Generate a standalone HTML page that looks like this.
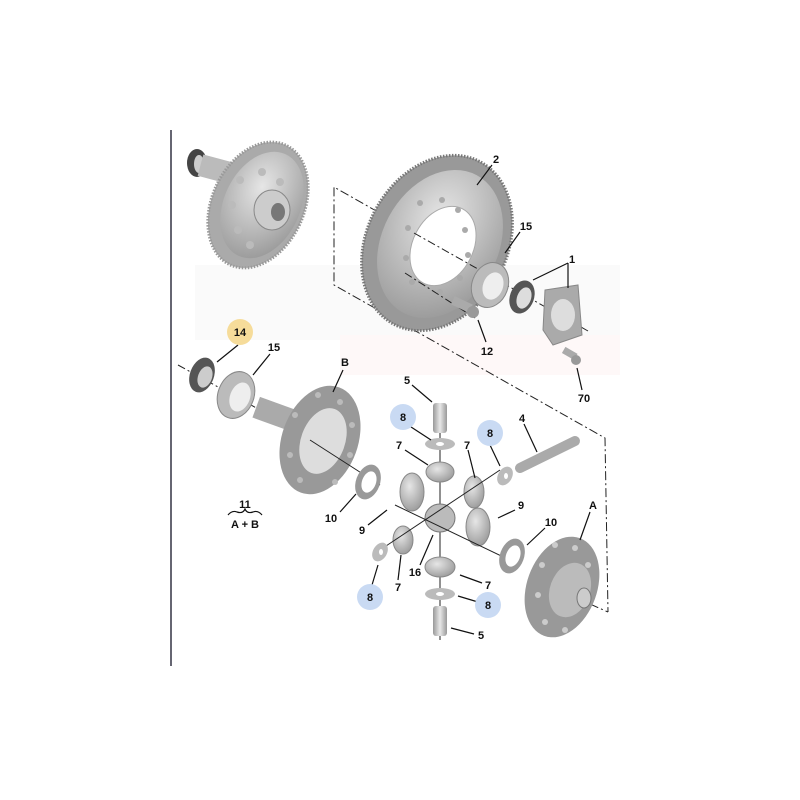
<!DOCTYPE html>
<html><head><style>
html,body{margin:0;padding:0;background:#fff;}
svg{display:block;}
text{font-family:"Liberation Sans",sans-serif;font-weight:bold;font-size:11px;fill:#111;text-anchor:middle;}
</style></head><body>
<svg width="800" height="800" viewBox="0 0 800 800" xmlns="http://www.w3.org/2000/svg">
<defs>
<radialGradient id="g" cx="40%" cy="35%" r="70%"><stop offset="0" stop-color="#e6e6e6"/><stop offset="1" stop-color="#9a9a9a"/></radialGradient>
<linearGradient id="pin" x1="0" x2="1"><stop offset="0" stop-color="#999"/><stop offset=".5" stop-color="#e8e8e8"/><stop offset="1" stop-color="#999"/></linearGradient>
</defs>
<line x1="171" y1="130" x2="171" y2="666" stroke="#334" stroke-width="1.5"/>
<!-- faint watermark -->
<rect x="195" y="265" width="425" height="75" fill="#fafafa"/>
<rect x="340" y="335" width="280" height="40" fill="#fef8f8"/>

<!-- top-left assembly -->
<g>
<ellipse cx="197" cy="163" rx="10" ry="14" fill="#444"/>
<ellipse cx="199" cy="164" rx="5" ry="9" fill="#ccc"/>
<rect x="200" y="158" width="30" height="22" fill="#bbb" transform="rotate(15 215 169)"/>
<ellipse cx="258" cy="205" rx="46" ry="66" fill="#aaa" stroke="#999" stroke-width="3" stroke-dasharray="1.5,1.5" transform="rotate(25 258 205)"/>
<ellipse cx="262" cy="205" rx="38" ry="56" fill="url(#g)" transform="rotate(25 262 205)"/>
<g fill="#bbb"><circle cx="240" cy="180" r="4"/><circle cx="262" cy="172" r="4"/><circle cx="280" cy="182" r="4"/><circle cx="238" cy="230" r="4"/><circle cx="250" cy="245" r="4"/><circle cx="232" cy="205" r="4"/></g>
<ellipse cx="272" cy="210" rx="18" ry="20" fill="#ccc" stroke="#888"/>
<ellipse cx="278" cy="212" rx="7" ry="9" fill="#777"/>
</g>

<!-- dashed box -->
<g stroke="#222" stroke-width="1" fill="none" stroke-dasharray="9,3,2,3">
<polyline points="378,212 334,187 334,285 605,438 608,612"/>
<line x1="590" y1="604" x2="608" y2="612"/>
</g>

<!-- big gear 2 -->
<ellipse cx="437" cy="243" rx="70" ry="92" fill="#999" stroke="#777" stroke-width="3" stroke-dasharray="1.5,1.5" transform="rotate(28 437 243)"/>
<ellipse cx="440" cy="244" rx="58" ry="78" fill="url(#g)" transform="rotate(28 440 244)"/>
<ellipse cx="443" cy="246" rx="30" ry="42" fill="#fff" stroke="#aaa" transform="rotate(28 443 246)"/>
<g fill="#aaa">
<circle cx="420" cy="203" r="3"/><circle cx="442" cy="200" r="3"/><circle cx="458" cy="210" r="3"/><circle cx="465" cy="230" r="3"/><circle cx="468" cy="255" r="3"/><circle cx="460" cy="278" r="3"/><circle cx="440" cy="292" r="3"/><circle cx="412" cy="282" r="3"/><circle cx="406" cy="258" r="3"/><circle cx="408" cy="228" r="3"/>
</g>
<line x1="414" y1="233" x2="588" y2="331" stroke="#222" stroke-dasharray="8,3,2,3"/>
<line x1="405" y1="273" x2="475" y2="318" stroke="#222" stroke-dasharray="8,3,2,3"/>

<!-- bearing 15 top -->
<ellipse cx="490" cy="285" rx="18" ry="23" fill="#bbb" stroke="#888" transform="rotate(20 490 285)"/>
<ellipse cx="493" cy="286" rx="10" ry="14" fill="#eee" transform="rotate(20 493 286)"/>
<!-- seal 1 -->
<ellipse cx="522" cy="297" rx="12" ry="17" fill="#555" transform="rotate(20 522 297)"/>
<ellipse cx="524" cy="298" rx="7" ry="11" fill="#ddd" transform="rotate(20 524 298)"/>
<!-- flange -->
<polygon points="545,290 578,285 582,335 553,345 543,330" fill="#aaa" stroke="#888"/>
<ellipse cx="563" cy="315" rx="12" ry="16" fill="#ddd"/>
<!-- bolt 12 -->
<rect x="452" y="300" width="20" height="9" fill="#aaa" transform="rotate(25 462 304)"/>
<circle cx="473" cy="312" r="6" fill="#999"/>
<!-- bolt 70 -->
<rect x="563" y="350" width="14" height="7" fill="#aaa" transform="rotate(30 570 353)"/>
<circle cx="576" cy="360" r="5" fill="#999"/>

<!-- 14 seal, 15 bearing -->
<line x1="178" y1="365" x2="260" y2="410" stroke="#222" stroke-dasharray="8,3,2,3"/>
<ellipse cx="202" cy="375" rx="12" ry="18" fill="#555" transform="rotate(20 202 375)"/>
<ellipse cx="205" cy="377" rx="7" ry="11" fill="#ccc" transform="rotate(20 205 377)"/>
<ellipse cx="236" cy="395" rx="18" ry="24" fill="#bbb" stroke="#888" transform="rotate(20 236 395)"/>
<ellipse cx="240" cy="397" rx="10" ry="15" fill="#eee" transform="rotate(20 240 397)"/>

<!-- housing B -->
<rect x="255" y="403" width="40" height="22" fill="#aaa" transform="rotate(20 275 414)"/>
<ellipse cx="320" cy="440" rx="38" ry="56" fill="#999" transform="rotate(20 320 440)"/>
<g fill="#bbb"><circle cx="318" cy="395" r="3"/><circle cx="340" cy="402" r="3"/><circle cx="352" cy="425" r="3"/><circle cx="350" cy="455" r="3"/><circle cx="335" cy="482" r="3"/><circle cx="300" cy="480" r="3"/><circle cx="290" cy="455" r="3"/><circle cx="295" cy="415" r="3"/></g>
<ellipse cx="323" cy="441" rx="22" ry="34" fill="#ddd" transform="rotate(20 323 441)"/>
<line x1="310" y1="440" x2="380" y2="485" stroke="#222"/>
<!-- washer 10 left -->
<ellipse cx="368" cy="482" rx="12" ry="18" fill="#999" transform="rotate(20 368 482)"/>
<ellipse cx="369" cy="482" rx="7" ry="11" fill="#fff" transform="rotate(20 369 482)"/>

<!-- center pins & gears -->
<line x1="440" y1="405" x2="440" y2="640" stroke="#222"/>
<rect x="433" y="403" width="14" height="30" rx="3" fill="url(#pin)"/>
<ellipse cx="440" cy="444" rx="15" ry="6" fill="#bbb"/><ellipse cx="440" cy="444" rx="4" ry="2" fill="#fff"/>
<ellipse cx="440" cy="472" rx="14" ry="10" fill="url(#g)" stroke="#888"/>
<ellipse cx="412" cy="492" rx="12" ry="19" fill="url(#g)" stroke="#888"/>
<ellipse cx="440" cy="518" rx="15" ry="14" fill="#bbb" stroke="#777"/>
<ellipse cx="474" cy="492" rx="10" ry="16" fill="url(#g)" stroke="#888"/>
<ellipse cx="478" cy="527" rx="12" ry="19" fill="url(#g)" stroke="#888"/>
<ellipse cx="403" cy="540" rx="10" ry="14" fill="url(#g)" stroke="#888"/>
<ellipse cx="440" cy="567" rx="15" ry="10" fill="url(#g)" stroke="#888"/>
<ellipse cx="440" cy="594" rx="15" ry="6" fill="#bbb"/><ellipse cx="440" cy="594" rx="4" ry="2" fill="#fff"/>
<rect x="433" y="606" width="14" height="30" rx="3" fill="url(#pin)"/>
<line x1="395" y1="505" x2="520" y2="565" stroke="#222"/>
<line x1="380" y1="550" x2="500" y2="470" stroke="#222"/>
<ellipse cx="380" cy="552" rx="7" ry="10" fill="#bbb" transform="rotate(30 380 552)"/><ellipse cx="381" cy="552" rx="2" ry="3" fill="#fff"/>
<ellipse cx="505" cy="476" rx="7" ry="10" fill="#bbb" transform="rotate(30 505 476)"/><ellipse cx="506" cy="476" rx="2" ry="3" fill="#fff"/>
<!-- rod 4 -->
<line x1="520" y1="468" x2="575" y2="441" stroke="#aaa" stroke-width="10" stroke-linecap="round"/>
<!-- washer 10 right -->
<ellipse cx="512" cy="556" rx="12" ry="18" fill="#999" transform="rotate(20 512 556)"/>
<ellipse cx="513" cy="556" rx="7" ry="11" fill="#fff" transform="rotate(20 513 556)"/>
<!-- housing A -->
<ellipse cx="562" cy="587" rx="35" ry="52" fill="#999" transform="rotate(20 562 587)"/>
<g fill="#ccc"><circle cx="555" cy="545" r="3"/><circle cx="575" cy="548" r="3"/><circle cx="542" cy="565" r="3"/><circle cx="538" cy="595" r="3"/><circle cx="545" cy="622" r="3"/><circle cx="565" cy="630" r="3"/><circle cx="588" cy="565" r="3"/></g>
<ellipse cx="570" cy="590" rx="20" ry="28" fill="#bbb" transform="rotate(20 570 590)"/>
<ellipse cx="584" cy="598" rx="7" ry="10" fill="#ccc" stroke="#777"/>

<!-- leaders -->
<g stroke="#111" stroke-width="1.2">
<line x1="492" y1="165" x2="477" y2="185"/>
<line x1="520" y1="232" x2="505" y2="253"/>
<line x1="568" y1="263" x2="533" y2="280"/>
<line x1="568" y1="263" x2="568" y2="288"/>
<line x1="486" y1="342" x2="478" y2="320"/>
<line x1="582" y1="390" x2="577" y2="368"/>
<line x1="238" y1="345" x2="217" y2="362"/>
<line x1="270" y1="354" x2="253" y2="375"/>
<line x1="343" y1="370" x2="333" y2="392"/>
<line x1="412" y1="385" x2="432" y2="402"/>
<line x1="408" y1="425" x2="431" y2="440"/>
<line x1="405" y1="450" x2="428" y2="465"/>
<line x1="468" y1="450" x2="475" y2="478"/>
<line x1="490" y1="445" x2="500" y2="466"/>
<line x1="524" y1="424" x2="537" y2="452"/>
<line x1="340" y1="512" x2="356" y2="494"/>
<line x1="368" y1="525" x2="387" y2="510"/>
<line x1="515" y1="510" x2="498" y2="518"/>
<line x1="545" y1="528" x2="527" y2="545"/>
<line x1="590" y1="512" x2="580" y2="540"/>
<line x1="420" y1="565" x2="433" y2="535"/>
<line x1="398" y1="580" x2="401" y2="555"/>
<line x1="372" y1="585" x2="378" y2="565"/>
<line x1="482" y1="583" x2="460" y2="575"/>
<line x1="478" y1="602" x2="458" y2="596"/>
<line x1="474" y1="634" x2="451" y2="628"/>
</g>

<!-- label circles -->
<circle cx="240" cy="332" r="13" fill="#f6dc9a"/>
<circle cx="403" cy="417" r="13" fill="#c9daf3"/>
<circle cx="490" cy="433" r="13" fill="#c9daf3"/>
<circle cx="370" cy="597" r="13" fill="#c9daf3"/>
<circle cx="488" cy="605" r="13" fill="#c9daf3"/>

<!-- labels -->
<text x="496" y="163">2</text>
<text x="526" y="230">15</text>
<text x="572" y="263">1</text>
<text x="487" y="355">12</text>
<text x="584" y="402">70</text>
<text x="240" y="336">14</text>
<text x="274" y="351">15</text>
<text x="345" y="366">B</text>
<text x="407" y="384">5</text>
<text x="403" y="421" fill="#234">8</text>
<text x="490" y="437" fill="#234">8</text>
<text x="370" y="601" fill="#234">8</text>
<text x="488" y="609" fill="#234">8</text>
<text x="399" y="449">7</text>
<text x="467" y="449">7</text>
<text x="398" y="591">7</text>
<text x="488" y="589">7</text>
<text x="522" y="422">4</text>
<text x="331" y="522">10</text>
<text x="551" y="526">10</text>
<text x="362" y="534">9</text>
<text x="521" y="509">9</text>
<text x="593" y="509">A</text>
<text x="415" y="576">16</text>
<text x="481" y="639">5</text>
<text x="245" y="508">11</text>
<path d="M228 515 q4 -5 9 -3 q6 2 8 -3 q2 5 8 3 q5 -2 9 3" stroke="#111" fill="none" stroke-width="1.2"/>
<text x="245" y="528">A + B</text>
</svg>
</body></html>
